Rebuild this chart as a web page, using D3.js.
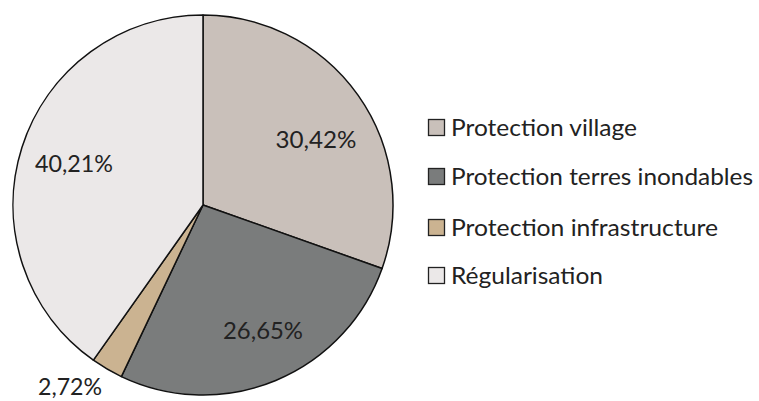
<!DOCTYPE html>
<html><head><meta charset="utf-8">
<script src="https://cdn.jsdelivr.net/npm/d3@7"></script>
<style>body{margin:0;background:#fff}svg{display:block}</style>
</head><body>
<script>
const categories = ["Protection village","Protection terres inondables","Protection infrastructure","Régularisation"];
const values = [30.42, 26.65, 2.72, 40.21];
const labels = ["30,42%","26,65%","2,72%","40,21%"];
const colors = ["#c9c0ba","#7a7c7c","#cbb391","#ebe8e8"];

const W=759,H=401;
const svg=d3.select("body").append("svg").attr("width",W).attr("height",H);
const cx=203,cy=205,r=190;
const pie=d3.pie().sort(null).value(d=>d)(values);
const arc=d3.arc().innerRadius(0).outerRadius(r);
const g=svg.append("g").attr("transform",`translate(${cx},${cy})`);
g.selectAll("path").data(pie).join("path").attr("d",arc)
 .attr("fill",(d,i)=>colors[i]).attr("stroke","#111").attr("stroke-width",1.5).attr("stroke-linejoin","round");
const font="Lato, 'Open Sans', sans-serif";
const lblPos=[[316,148],[263,339],[70,395],[74,172]];
const lblW=[81,80,64,78];
svg.selectAll("text.lbl").data(labels).join("text").attr("class","lbl")
 .attr("x",(d,i)=>lblPos[i][0]-lblW[i]/2).attr("y",(d,i)=>lblPos[i][1])
 .attr("textLength",(d,i)=>lblW[i]).attr("lengthAdjust","spacingAndGlyphs")
 .attr("font-family",font).attr("font-size",(d,i)=>i===2?23:24).attr("fill","#222").text(d=>d);
const leg=svg.append("g");
const lb=[136,185,236,284];
const legW=[186,302,267,152];
categories.forEach((c,i)=>{
  leg.append("rect").attr("x",428.5).attr("y",lb[i]-16.5).attr("width",16).attr("height",16)
   .attr("fill",colors[i]).attr("stroke","#222").attr("stroke-width",1.3);
  leg.append("text").attr("x",451).attr("y",lb[i]).attr("font-family",font)
   .attr("textLength",legW[i]).attr("lengthAdjust","spacingAndGlyphs")
   .attr("font-size",24).attr("fill","#222").text(c);
});
</script>
</body></html>
